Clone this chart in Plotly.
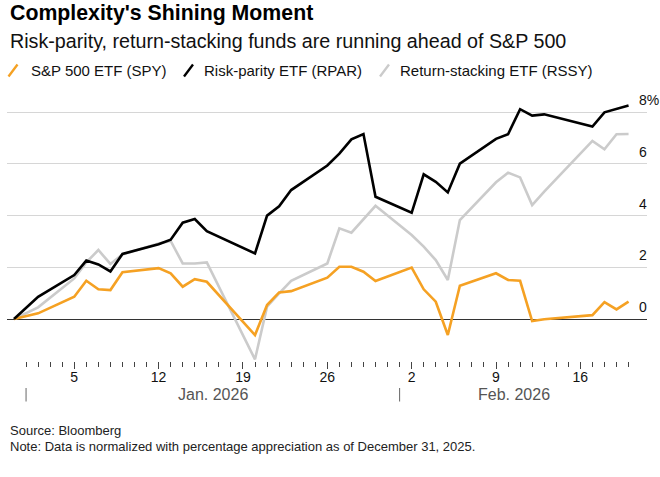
import plotly.graph_objects as go
import pandas as pd

dates = ["2025-12-31", "2026-01-02", "2026-01-05", "2026-01-06", "2026-01-07", "2026-01-08",
         "2026-01-09", "2026-01-12", "2026-01-13", "2026-01-14", "2026-01-15", "2026-01-16",
         "2026-01-20", "2026-01-21", "2026-01-22", "2026-01-23", "2026-01-26", "2026-01-27",
         "2026-01-28", "2026-01-29", "2026-01-30", "2026-02-02", "2026-02-03", "2026-02-04",
         "2026-02-05", "2026-02-06", "2026-02-09", "2026-02-10", "2026-02-11", "2026-02-12",
         "2026-02-13", "2026-02-17", "2026-02-18", "2026-02-19", "2026-02-20"]

spy = [0, 0.22, 0.86, 1.48, 1.15, 1.12, 1.81, 1.97, 1.77, 1.25, 1.54, 1.44,
       -0.62, 0.54, 1.03, 1.08, 1.60, 2.02, 2.02, 1.83, 1.47, 1.99, 1.15, 0.67,
       -0.62, 1.29, 1.77, 1.51, 1.48, -0.08, -0.01, 0.15, 0.65, 0.37, 0.67]

rpar = [0, 0.86, 1.70, 2.26, 2.11, 1.84, 2.52, 2.89, 3.07, 3.73, 3.87, 3.40,
        2.54, 4.00, 4.36, 4.99, 5.94, 6.40, 6.95, 7.16, 4.73, 4.11, 5.60, 5.31,
        4.90, 6.01, 6.97, 7.15, 8.12, 7.87, 7.92, 7.45, 8.00, 8.13, 8.26]

rssy = [0, 0.45, 1.57, 2.19, 2.67, 2.13, 2.50, 2.92, 3.02, 2.15, 2.15, 2.19,
        -1.56, 0.48, 0.99, 1.48, 2.15, 3.51, 3.34, 3.87, 4.38, 3.25, 2.80, 2.28,
        1.51, 3.83, 5.29, 5.66, 5.48, 4.41, 4.93, 6.89, 6.57, 7.15, 7.16]

series_names = ["S&P 500 ETF (SPY)", "Risk-parity ETF (RPAR)", "Return-stacking ETF (RSSY)"]
y_ticks = [0, 2, 4, 6, 8]
y_labels = ["0", "2", "4", "6", "8%"]
month_labels = ["Jan. 2026", "Feb. 2026"]
month_starts = ["2026-01-01", "2026-02-01"]
month_centers = ["2026-01-16 12:00", "2026-02-10 12:00"]

title = "Complexity's Shining Moment"
subtitle = "Risk-parity, return-stacking funds are running ahead of S&P 500"
source = "Source: Bloomberg"
note = "Note: Data is normalized with percentage appreciation as of December 31, 2025."

ORANGE = "#f5a123"
BLACK = "#000000"
GRAY = "#cbcbcb"
FONT = "Liberation Sans, Arial, sans-serif"

W, H = 660, 477
L, R, T, B = 7, 13, 95, 116
PW, PH = W - L - R, H - T - B


def px(x):
    return (x - L) / PW


def py(y):
    return (H - B - y) / PH


major = pd.date_range("2026-01-05", "2026-02-16", freq="7D")
minor = pd.date_range("2026-01-01", "2026-02-20", freq="D")

fig = go.Figure()
for vals, color in [(rssy, GRAY), (spy, ORANGE), (rpar, BLACK)]:
    fig.add_trace(go.Scatter(x=pd.to_datetime(dates), y=vals, mode="lines",
                             line=dict(color=color, width=2.6), showlegend=False,
                             hoverinfo="skip"))

annotations = [
    dict(text="<b>" + title + "</b>", x=px(8), y=py(13.5), font=dict(size=21.3, color="#000")),
    dict(text=subtitle, x=px(8), y=py(40.5), font=dict(size=19.7, color="#111")),
    dict(text=source, x=px(8), y=py(430), font=dict(size=13, color="#222")),
    dict(text=note, x=px(8), y=py(446.5), font=dict(size=13, color="#222")),
]
legend_x = [28.5, 202, 397.5]
slash_x = [8.5, 184, 380]
for name, lx in zip(series_names, legend_x):
    annotations.append(dict(text=name, x=px(lx), y=py(70.5), font=dict(size=15, color="#111")))

for a in annotations:
    a.update(xref="paper", yref="paper", xanchor="left", yanchor="middle", showarrow=False)

for lab, c in zip(month_labels, month_centers):
    annotations.append(dict(text=lab, x=c, xref="x", y=py(394.5), yref="paper",
                            xanchor="center", yanchor="middle", showarrow=False,
                            font=dict(size=16, color="#555")))

shapes = []
for sx, color in zip(slash_x, [ORANGE, BLACK, GRAY]):
    shapes.append(dict(type="line", xref="paper", yref="paper",
                       x0=px(sx), y0=py(76.5), x1=px(sx + 9), y1=py(64.5),
                       line=dict(color=color, width=2.4)))
for ms in month_starts:
    shapes.append(dict(type="line", xref="x", yref="paper", x0=ms, x1=ms,
                       y0=py(388), y1=py(401.5), line=dict(color="#666", width=1)))

fig.update_layout(
    width=W, height=H,
    margin=dict(l=L, r=R, t=T, b=B, pad=0, autoexpand=False),
    paper_bgcolor="white", plot_bgcolor="white",
    font=dict(family=FONT, color="#111"),
    annotations=annotations, shapes=shapes,
    showlegend=False,
    xaxis=dict(
        range=["2025-12-30 10:03", "2026-02-21 12:43"],
        tickmode="array", tickvals=major, ticktext=[str(d.day) for d in major],
        ticks="outside", ticklen=7, tickwidth=1, tickcolor="#444",
        ticklabelstandoff=-4, automargin=False,
        tickfont=dict(size=14, color="#111"),
        showgrid=False, showline=False, zeroline=False,
        minor=dict(tickmode="array", tickvals=minor, ticks="outside", ticklen=4.5,
                   tickwidth=1, tickcolor="#444", showgrid=False),
    ),
    yaxis=dict(
        range=[-1.625, 8.669],
        tickmode="array", tickvals=y_ticks, ticktext=y_labels,
        side="right", anchor="free", position=px(638), automargin=False,
        ticks="", ticklabelshift=-12,
        tickfont=dict(size=14, color="#111"),
        showgrid=True, gridcolor="#d6d6d6", gridwidth=1,
        zeroline=True, zerolinecolor="#333", zerolinewidth=1.3,
        showline=False,
    ),
)

fig.write_html("out.html", config={"displayModeBar": False},
               post_script="document.body.style.margin='0';document.body.style.overflow='hidden';")
